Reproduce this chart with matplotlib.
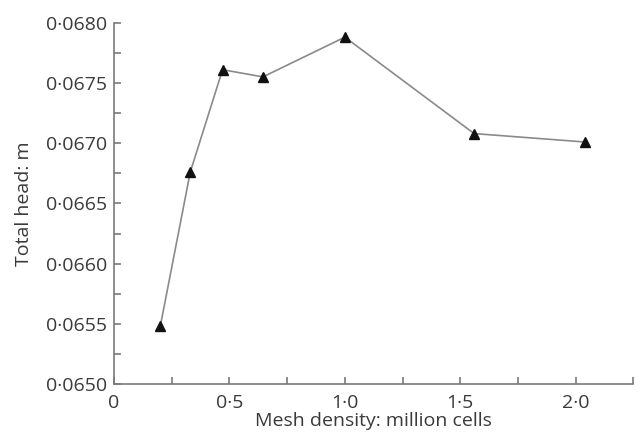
import matplotlib
matplotlib.use('Agg')
import matplotlib.pyplot as plt
from matplotlib.ticker import MultipleLocator

plt.rcParams['font.family'] = ['Open Sans', 'DejaVu Sans']

# ---------- Data ---------------------------------------------------------------
mesh_density = [0.20, 0.33, 0.47, 0.645, 1.00, 1.56, 2.04]          # million cells
total_head = [0.06548, 0.06676, 0.06761, 0.06755, 0.06788, 0.06708, 0.06701]   # m

x_ticks = [0, 0.5, 1.0, 1.5, 2.0]
x_tick_labels = ['0', '0·5', '1·0', '1·5', '2·0']
y_ticks = [0.0650, 0.0655, 0.0660, 0.0665, 0.0670, 0.0675, 0.0680]
y_tick_labels = ['0·0650', '0·0655', '0·0660', '0·0665', '0·0670', '0·0675', '0·0680']

# ---------- Figure -------------------------------------------------------------
fig = plt.figure(figsize=(6.41, 4.36), dpi=100)
ax = fig.add_axes([0.178, 0.1186, 0.81, 0.8294])

ax.plot(mesh_density, total_head, color='#8a8a8a', lw=1.2, zorder=2)
ax.plot(mesh_density, total_head, ls='none', marker='^', ms=7,
        color='#111111', zorder=3)

ax.set_xlim(0, 2.25)
ax.set_ylim(0.0650, 0.0680)

ax.set_xticks(x_ticks)
ax.set_xticklabels(x_tick_labels)
ax.set_yticks(y_ticks)
ax.set_yticklabels(y_tick_labels)
ax.xaxis.set_minor_locator(MultipleLocator(0.25))
ax.yaxis.set_minor_locator(MultipleLocator(0.00025))

for side in ['top', 'right']:
    ax.spines[side].set_visible(False)
for side in ['left', 'bottom']:
    ax.spines[side].set_color('#7a7a7a')
    ax.spines[side].set_linewidth(1.2)

ax.tick_params(which='both', direction='in', color='#7a7a7a', width=1.2,
               labelsize=14, labelcolor='#3a3a3a')
ax.tick_params(which='major', length=5)
ax.tick_params(which='minor', length=5)
ax.tick_params(axis='x', which='major', pad=7)
ax.tick_params(axis='y', which='major', pad=5)

ax.set_xlabel('Mesh density: million cells', fontsize=14, color='#3a3a3a', labelpad=0)
ax.set_ylabel('Total head: m', fontsize=14, color='#3a3a3a', labelpad=9)

fig.savefig('out.png', dpi=100)
